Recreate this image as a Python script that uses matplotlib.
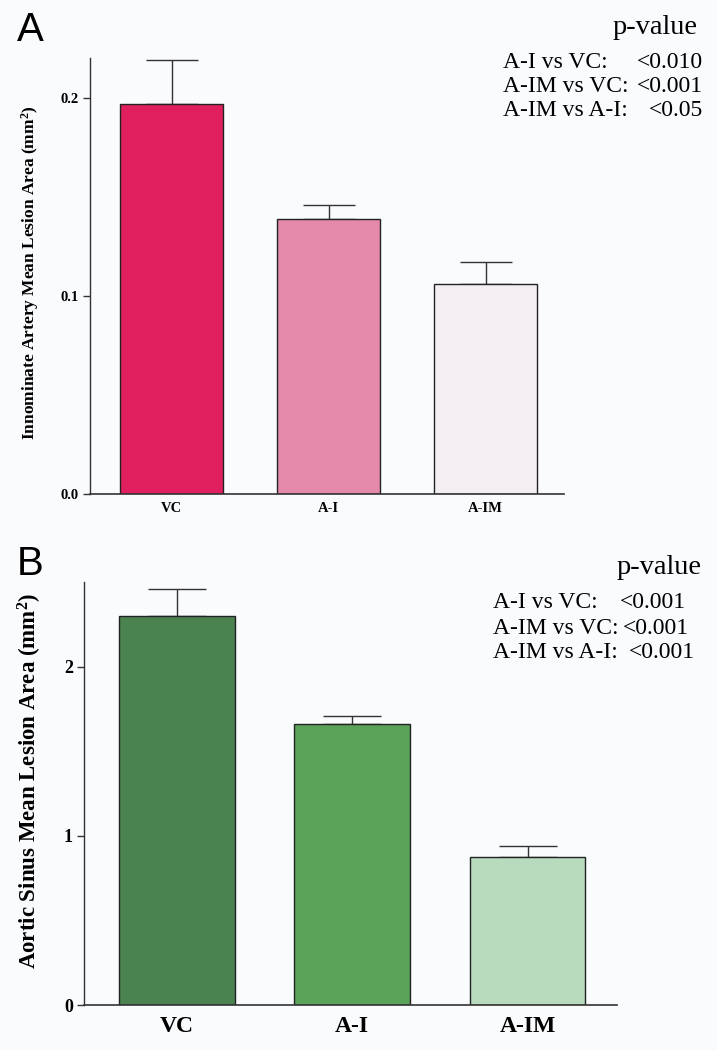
import matplotlib
matplotlib.use("Agg")
import matplotlib.pyplot as plt
import numpy as np

plt.rcParams['mathtext.fontset'] = 'custom'
plt.rcParams['mathtext.rm'] = 'Liberation Serif'
plt.rcParams['mathtext.bf'] = 'Liberation Serif:bold'
plt.rcParams['mathtext.it'] = 'Liberation Serif:italic'

groups = ["VC", "A-I", "A-IM"]

# Panel A: innominate artery
a_values = [0.197, 0.139, 0.106]
a_err = [0.022, 0.007, 0.011]
a_colors = ["#E0205E", "#E589AB", "#F3EEF2"]
a_yticks = [0.0, 0.1, 0.2]
a_yticklabels = ["0.0", "0.1", "0.2"]
a_ylabel = r"Innominate Artery Mean Lesion Area (mm$^{\mathbf{2}}$)"
a_cmp = ["A-I vs VC:", "A-IM vs VC:", "A-IM vs A-I:"]
a_p = ["<0.010", "<0.001", "<0.05"]

# Panel B: aortic sinus
b_values = [2.30, 1.66, 0.873]
b_err = [0.16, 0.05, 0.065]
b_colors = ["#4A8350", "#5BA259", "#B8DBBE"]
b_yticks = [0, 1, 2]
b_yticklabels = ["0", "1", "2"]
b_ylabel = r"Aortic Sinus Mean Lesion Area (mm$^{\mathbf{2}}$)"
b_cmp = ["A-I vs VC:", "A-IM vs VC:", "A-IM vs A-I:"]
b_p = ["<0.001", "<0.001", "<0.001"]

W, H = 717, 1050
bg = "#FAFBFD"
fig = plt.figure(figsize=(W / 100, H / 100), dpi=100, facecolor=bg)

serif = "Liberation Serif"


def px_axes(l, r, top, bot):
    return fig.add_axes([l / W, 1 - bot / H, (r - l) / W, (bot - top) / H])


def panel(ax, values, err, colors, ylim, yticks, yticklabels, ylabel,
          tick_fs, xtick_fs, ylab_fs, capsize, xlim, xpad):
    x = np.arange(len(groups))
    ax.set_facecolor(bg)
    ax.bar(x, values, width=0.66, color=colors, edgecolor="#222222",
           linewidth=1.0, zorder=2)
    ax.errorbar(x, values, yerr=[np.zeros(len(err)), err], fmt="none",
                ecolor="#333333", elinewidth=1.0, capsize=capsize,
                capthick=1.0, zorder=1)
    ax.set_xlim(*xlim)
    ax.set_ylim(*ylim)
    for s in ["top", "right"]:
        ax.spines[s].set_visible(False)
    ax.spines["left"].set_color("#333333")
    ax.spines["bottom"].set_color("#333333")
    ax.spines["left"].set_linewidth(1.0)
    ax.spines["bottom"].set_linewidth(1.2)
    ax.set_yticks(yticks)
    ax.set_yticklabels(yticklabels, fontfamily=serif, fontweight="bold",
                       fontsize=tick_fs)
    ax.set_xticks(x)
    ax.set_xticklabels(groups, fontfamily=serif, fontweight="bold",
                       fontsize=xtick_fs)
    ax.tick_params(axis="x", length=0, pad=xpad)
    ax.tick_params(axis="y", length=5, width=1.0, color="#333333", pad=3)
    ax.set_ylabel(ylabel, fontfamily=serif, fontweight="bold",
                  fontsize=ylab_fs)


axA = px_axes(90, 564, 58, 494)
panel(axA, a_values, a_err, a_colors, (0, 0.22), a_yticks, a_yticklabels,
      a_ylabel, 10.5, 10.5, 12.5, 19, (-0.52, 2.5), 6)
axA.yaxis.set_label_coords(-0.103, 0.507)

axB = px_axes(84, 617, 582, 1005)
panel(axB, b_values, b_err, b_colors, (0, 2.5), b_yticks, b_yticklabels,
      b_ylabel, 13, 17, 16.5, 21, (-0.53, 2.51), 8)
axB.yaxis.set_label_coords(-0.075, 0.53)

# panel letters
fig.text(30 / W, 1 - 30 / H, "A", fontsize=29, fontfamily="Liberation Sans",
         va="center", ha="center")
fig.text(30 / W, 1 - 564 / H, "B", fontsize=29, fontfamily="Liberation Sans",
         va="center", ha="center")

# p-value tables
fs = 17
fig.text(698 / W, 1 - 27 / H, "p-value", fontsize=20.5, fontfamily=serif,
         ha="right", va="center")
for i, (c, p) in enumerate(zip(a_cmp, a_p)):
    y = [63, 87, 111][i]
    fig.text(503 / W, 1 - y / H, c, fontsize=fs, fontfamily=serif,
             ha="left", va="center")
    fig.text(703 / W, 1 - y / H, p, fontsize=fs, fontfamily=serif,
             ha="right", va="center")

fig.text(702 / W, 1 - 568 / H, "p-value", fontsize=20.5, fontfamily=serif,
         ha="right", va="center")
for i, (c, p) in enumerate(zip(b_cmp, b_p)):
    y = [603, 628, 653][i]
    xs = [620, 623, 629][i]
    fig.text(493 / W, 1 - y / H, c, fontsize=fs, fontfamily=serif,
             ha="left", va="center")
    fig.text(xs / W, 1 - y / H, p, fontsize=fs, fontfamily=serif,
             ha="left", va="center")

fig.savefig("out.png", dpi=100, facecolor=bg)
